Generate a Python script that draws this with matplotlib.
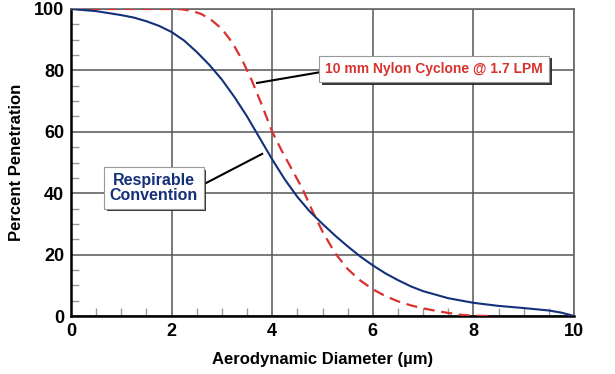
import matplotlib.pyplot as plt
import matplotlib.patheffects as pe
import numpy as np

# diameter (um) vs percent penetration
resp_d = [0, 0.5, 1.0, 1.25, 1.5, 1.75, 2.0, 2.25, 2.5, 2.75, 3.0, 3.25, 3.5, 3.75, 4.0, 4.25, 4.5, 4.75,
          5.0, 5.25, 5.5, 5.75, 6.0, 6.25, 6.5, 6.75, 7.0, 7.5, 8.0, 8.5, 9.0, 9.5, 9.75, 10.0]
resp_p = [100, 99.3, 98, 97.2, 96, 94.5, 92.5, 89.7, 86, 81.8, 77, 71.3, 65, 58, 51, 44.5, 38.8, 34,
          30, 26.2, 22.7, 19.4, 16.5, 13.9, 11.7, 9.7, 8.1, 5.8, 4.3, 3.3, 2.6, 1.8, 1.1, 0]

cyc_d = [0, 1.0, 2.0, 2.2, 2.4, 2.6, 2.8, 3.0, 3.2, 3.4, 3.6, 3.8, 4.0, 4.2, 4.4, 4.6, 4.8, 5.0, 5.25,
         5.5, 5.75, 6.0, 6.25, 6.5, 6.75, 7.0, 7.25, 7.5, 7.75, 8.0, 8.3]
cyc_p = [100, 100, 100, 99.9, 99.4, 98.3, 96.3, 93.5, 89.2, 83.5, 76.5, 68.5, 60, 53.5, 47.5, 41.5, 34.2,
         27.5, 20.5, 15.3, 11.6, 8.7, 6.5, 4.8, 3.5, 2.5, 1.7, 1.0, 0.4, 0.1, 0]

x_ticks = [0, 2, 4, 6, 8, 10]
y_ticks = [0, 20, 40, 60, 80, 100]

plt.rcParams['font.family'] = ['Liberation Sans', 'DejaVu Sans']
plt.rcParams['font.weight'] = 'bold'

fig = plt.figure(figsize=(6.15, 3.74), dpi=100)
ax = fig.add_axes([0.1154, 0.155, 0.818, 0.821])

ax.plot(cyc_d, cyc_p, color='#d8322e', lw=1.6, ls=(0, (5, 3)), zorder=3)
ax.plot(resp_d, resp_p, color='#14307a', lw=1.5, zorder=4, solid_joinstyle='round')

ax.set_xlim(0, 10)
ax.set_ylim(0, 100)
ax.set_xticks(x_ticks)
ax.set_yticks(y_ticks)
ax.set_xticks(np.arange(0, 10.01, 0.5), minor=True)
ax.set_yticks(np.arange(0, 100.01, 5), minor=True)
ax.tick_params(which='major', length=0, labelsize=13, pad=5)
ax.tick_params(which='minor', direction='in', length=6, color='#999999', width=1)
ax.grid(True, which='major', color='#555555', lw=1.1)
for s in ['top', 'right']:
    ax.spines[s].set_color('#666666')
    ax.spines[s].set_linewidth(1.2)
for s in ['left', 'bottom']:
    ax.spines[s].set_color('black')
    ax.spines[s].set_linewidth(1.8)

ax.set_xlabel('Aerodynamic Diameter (µm)', fontsize=12, fontweight='bold', labelpad=9)
ax.set_ylabel('Percent Penetration', fontsize=12, fontweight='bold', labelpad=7)

shadow = [pe.SimplePatchShadow(offset=(2, -2), shadow_rgbFace='#222222', alpha=0.9), pe.Normal()]

t1 = ax.text(1.65, 41.7, 'Respirable\nConvention', color='#14307a', fontsize=11.5, fontweight='bold',
             ha='center', va='center', linespacing=1.0, zorder=6,
             bbox=dict(boxstyle='square,pad=0.35', fc='white', ec='#999999', lw=0.8))
t1.get_bbox_patch().set_path_effects(shadow)
ax.plot([2.53, 3.8], [42, 52.8], color='black', lw=1.5, zorder=5)

t2 = ax.text(7.22, 80.5, '10 mm Nylon Cyclone @ 1.7 LPM', color='#d8322e', fontsize=10, fontweight='bold',
             ha='center', va='center', zorder=6,
             bbox=dict(boxstyle='square,pad=0.45', fc='white', ec='#999999', lw=0.8))
t2.get_bbox_patch().set_path_effects(shadow)
ax.plot([5.09, 3.7], [79.8, 75.9], color='black', lw=1.5, zorder=5)

fig.savefig('out.png', dpi=100)
